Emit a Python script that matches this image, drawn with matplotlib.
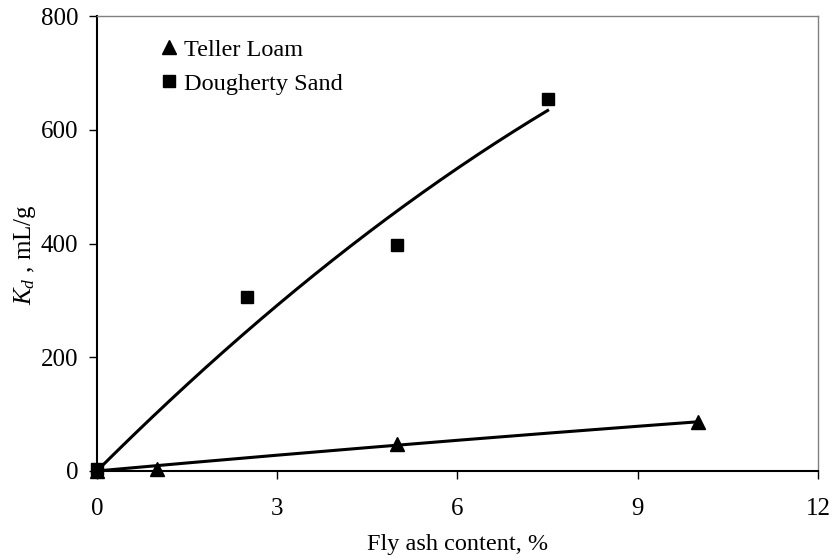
import numpy as np
import matplotlib
matplotlib.use("Agg")
import matplotlib.pyplot as plt

plt.rcParams['font.family'] = ['Liberation Serif', 'DejaVu Serif']
plt.rcParams['mathtext.fontset'] = 'custom'
plt.rcParams['mathtext.rm'] = 'Liberation Serif'
plt.rcParams['mathtext.it'] = 'Liberation Serif:italic'

# measured Kd values
teller_x = [0, 1, 5, 10]
teller_y = [0, 3.5, 47.5, 86]
dough_x = [0, 2.5, 5, 7.5]
dough_y = [3, 306, 398, 654]

x_ticks = [0, 3, 6, 9, 12]
y_ticks = [0, 200, 400, 600, 800]


def quad_through_origin(x, y):
    # least-squares fit of y = a*x + b*x^2 (no intercept)
    x = np.asarray(x, float)
    y = np.asarray(y, float)
    A = np.column_stack([x, x ** 2])
    coef, *_ = np.linalg.lstsq(A, y, rcond=None)
    xs = np.linspace(0, x.max(), 200)
    return xs, coef[0] * xs + coef[1] * xs ** 2


fig = plt.figure(figsize=(8.33, 5.58), dpi=100)
ax = fig.add_axes([0.1164, 0.156, 0.8656, 0.815])

xs, ys = quad_through_origin(teller_x, teller_y)
ax.plot(xs, ys, color='black', lw=2.2, zorder=2)
xs, ys = quad_through_origin(dough_x, dough_y)
ax.plot(xs, ys, color='black', lw=2.2, zorder=2)

ax.plot(teller_x, teller_y, ls='none', marker='^', ms=9.5, color='black',
        label='Teller Loam', zorder=3, clip_on=False)
ax.plot(dough_x, dough_y, ls='none', marker='s', ms=9, color='black',
        label='Dougherty Sand', zorder=3, clip_on=False)

ax.set_xlim(0, 12)
ax.set_ylim(0, 800)
ax.set_xticks(x_ticks)
ax.set_yticks(y_ticks)
ax.tick_params(direction='out', length=5.5, width=1, labelsize=18)
ax.tick_params(axis='x', pad=14)
ax.tick_params(axis='y', pad=8)

for side in ['top', 'right']:
    ax.spines[side].set_color('#808080')
    ax.spines[side].set_linewidth(1.0)
for side in ['left', 'bottom']:
    ax.spines[side].set_color('black')
    ax.spines[side].set_linewidth(1.5)

ax.set_xlabel('Fly ash content, %', fontsize=17.5, labelpad=10)
ax.set_ylabel('$K_d$ , mL/g', fontsize=18)
ax.yaxis.set_label_coords(-0.082, 0.475)

ax.legend(loc='upper left', bbox_to_anchor=(0.07, 0.983), frameon=False,
          fontsize=17.5, handlelength=0.6, handletextpad=0.3, labelspacing=0.5,
          borderaxespad=0.2)

fig.savefig('out.png', dpi=100)
